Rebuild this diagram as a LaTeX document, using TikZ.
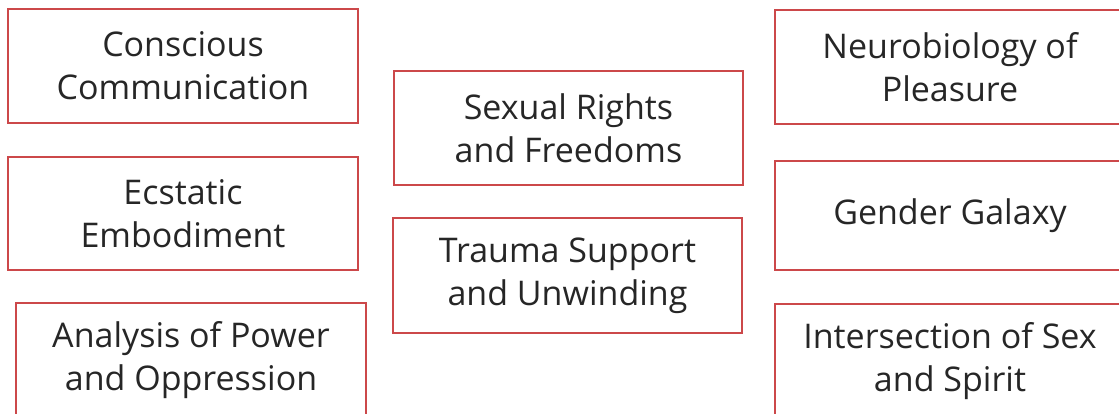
\documentclass[tikz,border=0pt]{standalone}
\usepackage{fontspec}
\setmainfont{Open Sans}
\usepackage{xcolor}
\usepackage{tikz}
\usetikzlibrary{positioning}
\definecolor{boxred}{RGB}{204,72,74}
\definecolor{textgray}{RGB}{38,38,38}

\begin{document}
\begin{tikzpicture}[x=1pt, y=-1pt,
    topic/.style={draw=boxred, line width=1.8pt, text=textgray, align=center,
        minimum width=350pt, minimum height=114pt, inner sep=0pt,
        font=\fontsize{34}{43}\selectfont}]
    \useasboundingbox (0,0) rectangle (1119,413);
    \clip (0,0) rectangle (1119,413);

    % Left column
    \node [topic] (conscious) at (183,66) {Conscious\\Communication};
    \node [topic, minimum height=113pt] (ecstatic) at (183,213.5) {Ecstatic\\Embodiment};
    \node [topic] (power) at (191,360) {Analysis of Power\\and Oppression};

    % Middle column
    \node [topic, minimum width=349pt] (rights) at (568.5,128) {Sexual Rights\\and Freedoms};
    \node [topic, minimum width=349pt, minimum height=115pt] (trauma) at (567.5,275.5) {Trauma Support\\and Unwinding};

    % Right column (runs off the edge)
    \node [topic] (neuro) at (950,67) {Neurobiology of\\Pleasure};
    \node [topic, minimum height=109pt] (gender) at (950,215.5) {Gender Galaxy};
    \node [topic] (spirit) at (950,361) {Intersection of Sex\\and Spirit};
\end{tikzpicture}
\end{document}
